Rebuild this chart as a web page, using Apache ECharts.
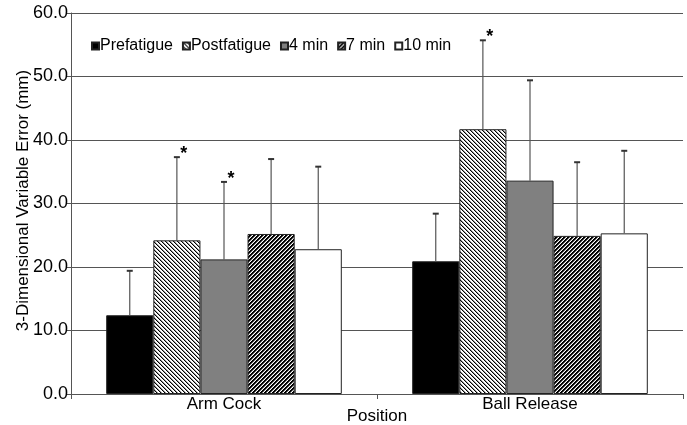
<!DOCTYPE html>
<html>
<head>
<meta charset="utf-8">
<script src="https://cdn.jsdelivr.net/npm/echarts@6/dist/echarts.min.js"></script>
<style>html,body{margin:0;padding:0;background:#fff}#c{width:687px;height:425px}</style>
</head>
<body>
<div id="c"></div>
<script>
// ---- data ----
var categories = ['Arm Cock', 'Ball Release'];
var seriesNames = ['Prefatigue', 'Postfatigue', '4 min', '7 min', '10 min'];
var prefatigue  = [12.4, 20.9];
var postfatigue = [24.2, 41.7];
var min4        = [21.2, 33.6];
var min7        = [25.2, 24.9];
var min10       = [22.8, 25.3];
var prefatigueSD  = [7.0, 7.5];
var postfatigueSD = [13.1, 14.0];
var min4SD        = [12.2, 15.8];
var min7SD        = [11.8, 11.6];
var min10SD       = [13.0, 13.0];
var significant = [[false, false], [true, true], [true, false], [false, false], [false, false]];
var yTicks = [0, 10, 20, 30, 40, 50, 60];

var means = [prefatigue, postfatigue, min4, min7, min10];
var sds = [prefatigueSD, postfatigueSD, min4SD, min7SD, min10SD];

function stripe(dir, on) {
  var n = 4, cv = document.createElement('canvas');
  cv.width = 8; cv.height = 8;
  var ctx = cv.getContext('2d');
  var img = ctx.createImageData(8, 8);
  for (var y = 0; y < 8; y++) for (var x = 0; x < 8; x++) {
    var d = dir > 0 ? ((x + y) % n) : (((x - y) % n) + n) % n;
    var v = on[d];
    var i = (y * 8 + x) * 4;
    img.data[i] = img.data[i + 1] = img.data[i + 2] = v; img.data[i + 3] = 255;
  }
  ctx.putImageData(img, 0, 0);
  return { image: cv, repeat: 'repeat' };
}

var fills = [
  '#000000',
  stripe(-1, [0, 150, 255, 255]),
  '#808080',
  stripe(1, [0, 0, 120, 255]),
  '#ffffff'
];

var GAP = 0.23;
var series = [];
seriesNames.forEach(function (name, s) {
  series.push({
    name: name, type: 'bar', data: means[s],
    barGap: 0, barCategoryGap: (GAP * 100) + '%',
    itemStyle: { color: fills[s], borderColor: '#222', borderWidth: 1 },
    emphasis: { disabled: true }, z: 2
  });
});

var errData = [];
means.forEach(function (arr, s) {
  arr.forEach(function (v, c) { errData.push([c, v, sds[s][c], s, significant[s][c] ? 1 : 0]); });
});

series.push({
  type: 'custom', name: 'err', z: 5, silent: true,
  data: errData,
  encode: { x: 0, y: 1 },
  renderItem: function (params, api) {
    var c = api.value(0), v = api.value(1), sd = api.value(2), s = api.value(3), sig = api.value(4);
    var cw = api.size([1, 0])[0];
    var bw = cw * (1 - GAP) / 5;
    var cx = api.coord([c, 0])[0] + (s - 2) * bw;
    var yb = api.coord([c, v])[1];
    var yt = api.coord([c, v + sd])[1];
    var st = { stroke: '#555', lineWidth: 1.2 };
    var children = [
      { type: 'line', shape: { x1: cx, y1: yb, x2: cx, y2: yt }, style: st },
      { type: 'line', shape: { x1: cx - 3, y1: yt, x2: cx + 3, y2: yt }, style: { stroke: '#333', lineWidth: 2 } }
    ];
    if (sig) {
      children.push({ type: 'text', x: cx + 7, y: yt - 3,
        style: { text: '*', fill: '#000', font: 'bold 18px "Liberation Sans", Arial, sans-serif', align: 'center', verticalAlign: 'middle' } });
    }
    return { type: 'group', children: children };
  }
});

var chart = echarts.init(document.getElementById('c'), null, { renderer: 'canvas' });
chart.setOption({
  animation: false,
  backgroundColor: '#fff',
  textStyle: { fontFamily: '"Liberation Sans", Arial, sans-serif' },
  grid: { left: 71, right: 4, top: 13, bottom: 31, outerBoundsMode: 'none', containLabel: false },
  legend: {
    data: seriesNames, left: 86, top: 33,
    itemWidth: 7, itemHeight: 7, itemGap: 9,
    icon: 'rect',
    textStyle: { fontSize: 16, color: '#000', padding: [0, 0, 0, -4] },
    selectedMode: false
  },
  xAxis: {
    type: 'category', data: categories,
    name: 'Position', nameLocation: 'middle', nameGap: 14, nameMoveOverlap: false,
    nameTextStyle: { fontSize: 17, color: '#000', verticalAlign: 'top' },
    axisLine: { lineStyle: { color: '#555', width: 1 } },
    axisTick: { show: true, length: 5, lineStyle: { color: '#555' } },
    axisLabel: { fontSize: 17, color: '#000', margin: 2 },
    splitLine: { show: false }
  },
  yAxis: {
    type: 'value', min: 0, max: 60, interval: 10,
    name: '3-Dimensional Variable Error (mm)', nameLocation: 'middle', nameGap: 39, nameMoveOverlap: false,
    nameTextStyle: { fontSize: 17, color: '#000', padding: [0, 0, 0, 6] },
    axisLine: { show: true, lineStyle: { color: '#555', width: 1 } },
    axisTick: { show: true, length: 5, lineStyle: { color: '#555' } },
    axisLabel: { fontSize: 18, color: '#000', margin: 3, formatter: function (v) { return v.toFixed(1); } },
    splitLine: { show: true, lineStyle: { color: '#555', width: 1 } }
  },
  series: series
});
</script>
</body>
</html>
